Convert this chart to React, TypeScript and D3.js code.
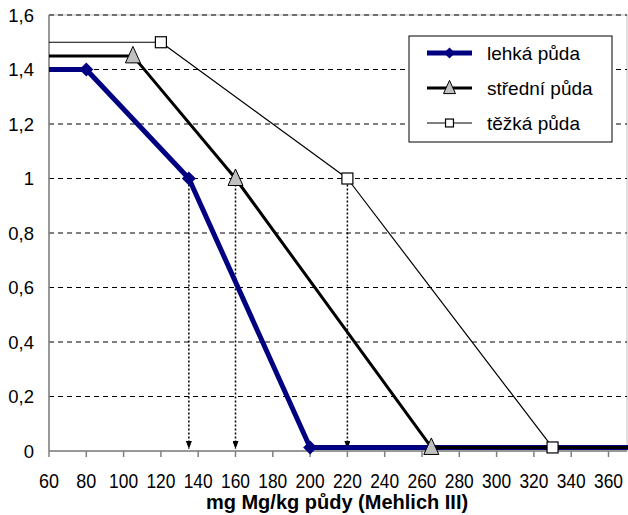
import React, { useEffect, useRef } from 'react';
import * as d3 from 'd3';

const xTicks = [60, 80, 100, 120, 140, 160, 180, 200, 220, 240, 260, 280, 300, 320, 340, 360];
const yTicks = [0, 0.2, 0.4, 0.6, 0.8, 1, 1.2, 1.4, 1.6];

const lehkaX = [60, 80, 135, 200, 372];
const lehkaY = [1.4, 1.4, 1.0, 0.013, 0.013];
const stredniX = [60, 105, 160, 265, 372];
const stredniY = [1.45, 1.45, 1.0, 0.013, 0.013];
const tezkaX = [60, 120, 220, 330, 372];
const tezkaY = [1.5, 1.5, 1.0, 0.013, 0.013];
// which points carry a marker (the first and last are only line ends)
const markerIdx = [1, 2, 3];
const arrowsX = [135, 160, 220];
const seriesNames = ['lehká půda', 'střední půda', 'těžká půda'];

const App: React.FC = () => {
  const ref = useRef<SVGSVGElement | null>(null);

  useEffect(() => {
    const width = 628;
    const height = 515;
    const m = { left: 49, right: 1, top: 15, bottom: 64 };
    const font = '"Liberation Sans", Arial, sans-serif';

    const svg = d3.select(ref.current)
      .attr('width', width)
      .attr('height', height)
      .style('position', 'absolute')
      .style('left', 0)
      .style('top', 0)
      .style('background', '#ffffff');
    svg.selectAll('*').remove();

    const x = d3.scaleLinear().domain([60, 60 + (627 - 49) / 37.3 * 20]).range([m.left, width - m.right]);
    const y = d3.scaleLinear().domain([0, 1.6]).range([height - m.bottom, m.top]);

    const defs = svg.append('defs');
    defs.append('marker')
      .attr('id', 'arr')
      .attr('viewBox', '0 0 8 6')
      .attr('refX', 8).attr('refY', 3)
      .attr('markerWidth', 8).attr('markerHeight', 6)
      .attr('markerUnits', 'userSpaceOnUse')
      .attr('orient', 'auto')
      .append('path').attr('d', 'M0,0 L8,3 L0,6 Z').attr('fill', '#000');

    // plot border
    svg.append('rect')
      .attr('x', x.range()[0]).attr('y', m.top)
      .attr('width', x.range()[1] - x.range()[0]).attr('height', y(0) - m.top)
      .attr('fill', '#fff').attr('stroke', '#c0c0c0').attr('stroke-width', 1);

    // grid
    svg.append('g').selectAll('line')
      .data(yTicks.filter(t => t > 0))
      .join('line')
      .attr('x1', x.range()[0]).attr('x2', x.range()[1])
      .attr('y1', d => y(d)).attr('y2', d => y(d))
      .attr('stroke', '#000').attr('stroke-width', 1)
      .attr('stroke-dasharray', '5,4');

    // axes
    svg.append('line')
      .attr('x1', m.left).attr('x2', m.left).attr('y1', m.top).attr('y2', y(0))
      .attr('stroke', '#808080').attr('stroke-width', 1.5);
    svg.append('line')
      .attr('x1', m.left).attr('x2', x.range()[1]).attr('y1', y(0)).attr('y2', y(0))
      .attr('stroke', '#808080').attr('stroke-width', 1.5);
    svg.append('g').selectAll('line')
      .data(xTicks)
      .join('line')
      .attr('x1', d => x(d)).attr('x2', d => x(d))
      .attr('y1', y(0)).attr('y2', y(0) + 6)
      .attr('stroke', '#808080').attr('stroke-width', 1.5);

    svg.append('g').selectAll('text')
      .data(xTicks)
      .join('text')
      .attr('x', d => x(d)).attr('y', y(0) + 37)
      .attr('text-anchor', 'middle')
      .style('font-family', font).style('font-size', '19.5px')
      .attr('textLength', d => (String(d).length === 3 ? 29 : 20))
      .attr('lengthAdjust', 'spacingAndGlyphs')
      .text(d => d);

    svg.append('g').selectAll('text')
      .data(yTicks)
      .join('text')
      .attr('x', 34).attr('y', d => y(d) + 6.5)
      .attr('text-anchor', 'end')
      .style('font-family', font).style('font-size', '18.5px')
      .text(d => d3.format('')(d).replace('.', ','));

    svg.append('text')
      .attr('x', 337).attr('y', 509)
      .attr('text-anchor', 'middle')
      .style('font-family', font).style('font-size', '20px').style('font-weight', 'bold')
      .text('mg Mg/kg půdy (Mehlich III)');

    // dotted arrows
    svg.append('g').selectAll('line')
      .data(arrowsX)
      .join('line')
      .attr('x1', d => x(d)).attr('x2', d => x(d))
      .attr('y1', y(1) + 6).attr('y2', y(0) - 2)
      .attr('stroke', '#000').attr('stroke-width', 1.5)
      .attr('stroke-dasharray', '2,2')
      .attr('marker-end', 'url(#arr)');

    const line = d3.line<[number, number]>().x(d => x(d[0])).y(d => y(d[1]));
    const zip = (xs: number[], ys: number[]) => xs.map((v, i) => [v, ys[i]] as [number, number]);

    const series = [
      { pts: zip(tezkaX, tezkaY), color: '#000', w: 1.2, kind: 'square' },
      { pts: zip(lehkaX, lehkaY), color: '#000080', w: 5, kind: 'diamond' },
      { pts: zip(stredniX, stredniY), color: '#000', w: 3, kind: 'triangle' },
    ];

    const drawMarker = (g: d3.Selection<SVGGElement, unknown, null, undefined>, kind: string, cx: number, cy: number, s = 1) => {
      if (kind === 'diamond') {
        g.append('path').attr('d', `M${cx},${cy - 7 * s}L${cx + 7 * s},${cy}L${cx},${cy + 7 * s}L${cx - 7 * s},${cy}Z`)
          .attr('fill', '#000080');
      } else if (kind === 'triangle') {
        g.append('path').attr('d', `M${cx},${cy - 9.5 * s}L${cx + 7.5 * s},${cy + 7 * s}L${cx - 7.5 * s},${cy + 7 * s}Z`)
          .attr('fill', '#c0c0c0').attr('stroke', '#000').attr('stroke-width', 1);
      } else {
        g.append('rect').attr('x', cx - 5.5 * s).attr('y', cy - 5.5 * s).attr('width', 11 * s).attr('height', 11 * s)
          .attr('fill', '#fff').attr('stroke', '#000').attr('stroke-width', 1.2);
      }
    };

    const plot = svg.append('g');
    series.forEach(s => {
      plot.append('path').attr('d', line(s.pts)!)
        .attr('fill', 'none').attr('stroke', s.color).attr('stroke-width', s.w)
        .attr('stroke-linejoin', 'round');
    });
    series.forEach(s => {
      markerIdx.forEach(i => drawMarker(plot, s.kind, x(s.pts[i][0]), y(s.pts[i][1])));
    });

    // legend
    const lg = svg.append('g');
    lg.append('rect').attr('x', 409).attr('y', 36).attr('width', 203).attr('height', 106)
      .attr('fill', '#fff').attr('stroke', '#000').attr('stroke-width', 1);
    const legendItems = [
      { kind: 'diamond', color: '#000080', w: 5 },
      { kind: 'triangle', color: '#000', w: 3 },
      { kind: 'square', color: '#000', w: 1.2 },
    ];
    legendItems.forEach((it, i) => {
      const cy = 53 + i * 35;
      const lgG = lg.append('g');
      lgG.append('line').attr('x1', 427).attr('x2', 472).attr('y1', cy).attr('y2', cy)
        .attr('stroke', it.color).attr('stroke-width', it.w);
      drawMarker(lgG, it.kind, 449.5, cy, it.kind === 'square' ? 0.72 : 0.8);
      lg.append('text').attr('x', 487).attr('y', cy + 6.5)
        .style('font-family', font).style('font-size', '19px')
        .text(seriesNames[i]);
    });
  }, []);

  return <svg ref={ref}></svg>;
};

export default App;
